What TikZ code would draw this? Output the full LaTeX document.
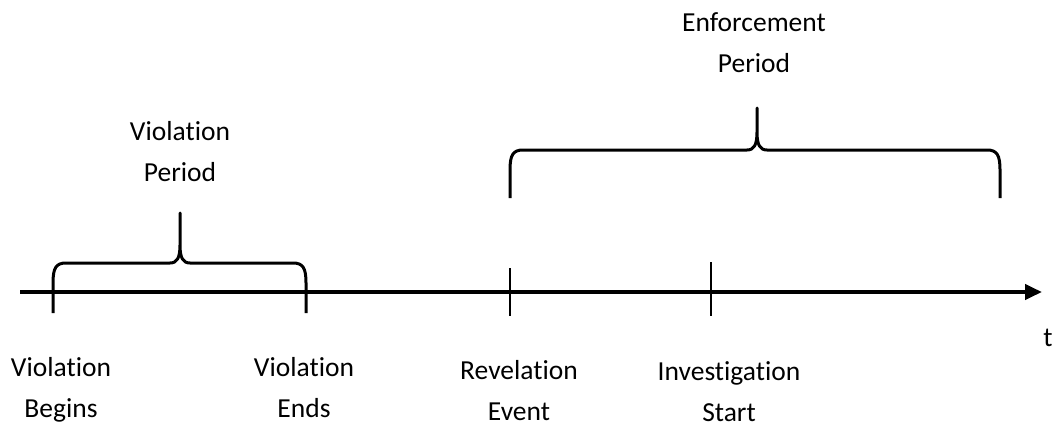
\documentclass[tikz,border=0pt]{standalone}
\usepackage{fontspec}
\setmainfont{Carlito}[RawFeature={-liga;-clig;-calt;-dlig}]
\usetikzlibrary{arrows.meta}
\begin{document}
\begin{tikzpicture}[x=1pt,y=-1pt,
  lbl/.style={align=center,font=\fontsize{27.5}{41}\selectfont,inner sep=0pt},
  bracepath/.style={line width=3pt,line join=round},
  tickline/.style={line width=2.6pt},
  axisline/.style={line width=4pt,-{Triangle[length=17pt,width=15pt]}}]
\useasboundingbox (0,0) rectangle (1057,428);
% axis
\coordinate (a0) at (20,292);
\coordinate (a1) at (1042,292);
\draw[axisline] (a0) -- (a1);
% ticks
\coordinate (r0) at (510,268); \coordinate (r1) at (510,316);
\coordinate (i0) at (711,262); \coordinate (i1) at (711,316);
\draw[tickline] (r0) -- (r1);
\draw[tickline] (i0) -- (i1);
% violation brace
\draw[bracepath] (53,313) -- (53,283) .. controls (53,268) and (56,263) .. (66,263) -- (170,263)
  .. controls (177,263) and (180,258) .. (180,245) -- (180,213) -- (180,245)
  .. controls (180,258) and (183,263) .. (190,263) -- (293,263)
  .. controls (303,263) and (306,268) .. (306,283) -- (306,313);
% enforcement brace
\draw[bracepath] (510,198) -- (510,170) .. controls (510,155) and (513,150) .. (523,150) -- (747,150)
  .. controls (754,150) and (757,145) .. (757,132) -- (757,108) -- (757,132)
  .. controls (757,145) and (760,150) .. (767,150) -- (987,150)
  .. controls (997,150) and (1000,155) .. (1000,170) -- (1000,198);
% labels
\node[lbl] (ep) at (754,43) {Enforcement\\Period};
\node[lbl] (vp) at (180,152) {Violation\\Period};
\node[lbl] (vb) at (61,390) {Violation\\Begins};
\node[lbl] (ve) at (304,388) {Violation\\Ends};
\node[lbl] (re) at (519,391) {Revelation\\Event};
\node[lbl] (is) at (729,392) {Investigation\\Start};
\node[lbl] (t) at (1048,338) {t};
\end{tikzpicture}
\end{document}
